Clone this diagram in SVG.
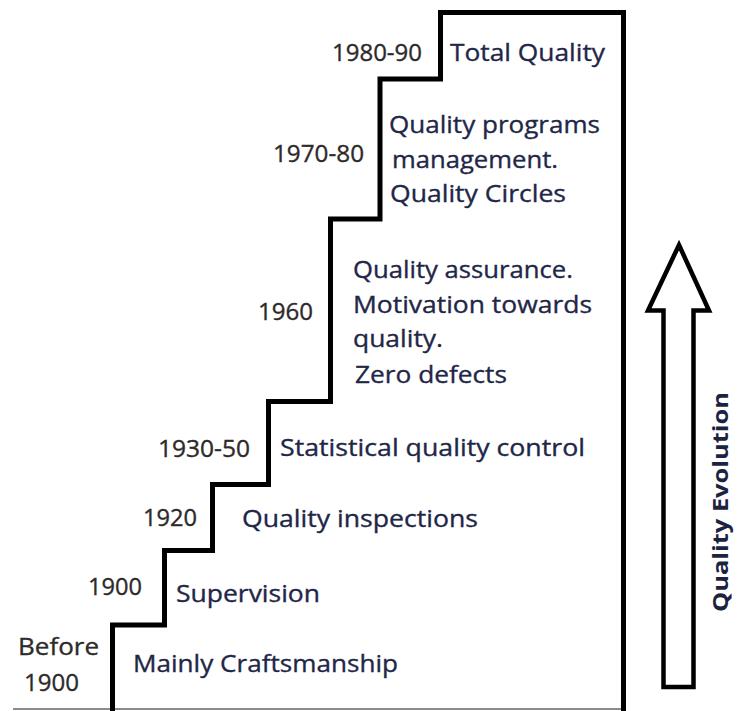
<svg xmlns="http://www.w3.org/2000/svg" width="737" height="711" viewBox="0 0 737 711">
  <style>
    text { font-family: "Open Sans", "Noto Sans", "Liberation Sans", sans-serif; font-size: 24px; stroke-width: 0.35px; }
    .year { fill: #2e2a2a; stroke: #2e2a2a; }
    .desc { fill: #1f2748; stroke: #1f2748; }
    .axis { fill: #1c2340; font-weight: bold; font-size: 22px; stroke: none; }
    .stair { fill: none; stroke: #000; stroke-width: 5; stroke-linejoin: miter; }
    .arrow { fill: #fff; stroke: #000; stroke-width: 4.5; stroke-linejoin: miter; }
  </style>
  <rect width="737" height="711" fill="#fff"/>

  <!-- ground line and staircase -->
  <g id="connectors">
    <line x1="13" y1="709" x2="623" y2="709" stroke="#666" stroke-width="1.5"/>
    <path class="stair" d="M112.5 711 V625 H164.5 V550.5 H212.5 V484.5 H268.5 V401.5 H330.5 V219 H380 V79 H440.5 V12.5 H623.5 V711"/>
  </g>

  <g id="step-before-1900">
    <text class="year" x="18" y="655" textLength="81" lengthAdjust="spacingAndGlyphs">Before</text>
    <text class="year" x="24" y="691" textLength="55" lengthAdjust="spacingAndGlyphs">1900</text>
    <text class="desc" x="133" y="672" textLength="265" lengthAdjust="spacingAndGlyphs">Mainly Craftsmanship</text>
  </g>

  <g id="step-1900">
    <text class="year" x="88" y="595" textLength="54" lengthAdjust="spacingAndGlyphs">1900</text>
    <text class="desc" x="176" y="601.5" textLength="144" lengthAdjust="spacingAndGlyphs">Supervision</text>
  </g>

  <g id="step-1920">
    <text class="year" x="143" y="526" textLength="54" lengthAdjust="spacingAndGlyphs">1920</text>
    <text class="desc" x="242" y="527" textLength="236" lengthAdjust="spacingAndGlyphs">Quality inspections</text>
  </g>

  <g id="step-1930-50">
    <text class="year" x="158" y="456.5" textLength="92" lengthAdjust="spacingAndGlyphs">1930-50</text>
    <text class="desc" x="280" y="456" textLength="305" lengthAdjust="spacingAndGlyphs">Statistical quality control</text>
  </g>

  <g id="step-1960">
    <text class="year" x="258" y="320" textLength="55" lengthAdjust="spacingAndGlyphs">1960</text>
    <text class="desc" x="353" y="278" textLength="220" lengthAdjust="spacingAndGlyphs">Quality assurance.</text>
    <text class="desc" x="353" y="313" textLength="239" lengthAdjust="spacingAndGlyphs">Motivation towards</text>
    <text class="desc" x="353" y="347" textLength="90" lengthAdjust="spacingAndGlyphs">quality.</text>
    <text class="desc" x="355" y="383" textLength="152" lengthAdjust="spacingAndGlyphs">Zero defects</text>
  </g>

  <g id="step-1970-80">
    <text class="year" x="273" y="161.5" textLength="91" lengthAdjust="spacingAndGlyphs">1970-80</text>
    <text class="desc" x="389" y="133" textLength="211" lengthAdjust="spacingAndGlyphs">Quality programs</text>
    <text class="desc" x="392" y="168" textLength="166" lengthAdjust="spacingAndGlyphs">management.</text>
    <text class="desc" x="390" y="201.5" textLength="176" lengthAdjust="spacingAndGlyphs">Quality Circles</text>
  </g>

  <g id="step-1980-90">
    <text class="year" x="332" y="60.5" textLength="90" lengthAdjust="spacingAndGlyphs">1980-90</text>
    <text class="desc" x="450" y="60.5" textLength="155" lengthAdjust="spacingAndGlyphs">Total Quality</text>
  </g>

  <g id="evolution-arrow">
    <polygon class="arrow" points="679,245 709,310.5 693.5,310.5 693.5,687 663.5,687 663.5,310.5 648,310.5"/>
    <text class="axis" transform="translate(728 612) rotate(-90)" textLength="220" lengthAdjust="spacingAndGlyphs">Quality Evolution</text>
  </g>
</svg>
